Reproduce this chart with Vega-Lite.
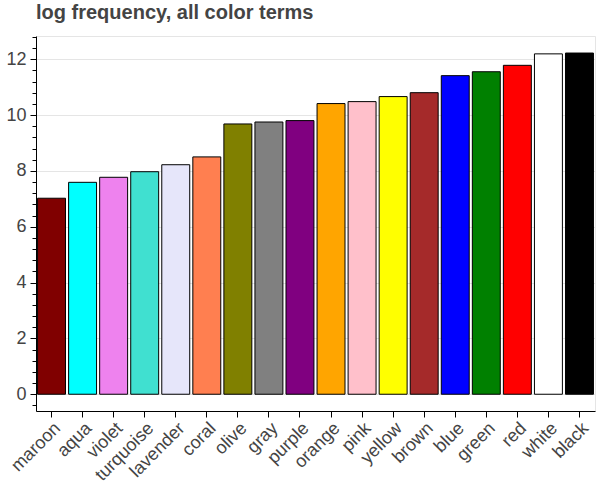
{
  "$schema": "https://vega.github.io/schema/vega-lite/v6.json",
  "width": 559,
  "height": 375,
  "autosize": "none",
  "padding": {"left": 36, "top": 36, "right": 5, "bottom": 89},
  "background": "white",
  "title": {
    "text": "log frequency, all color terms",
    "anchor": "start",
    "frame": "group",
    "fontSize": 20,
    "fontWeight": "bold",
    "font": "Liberation Sans",
    "color": "#444444",
    "offset": 5
  },
  "config": {
    "view": {"stroke": "#e5e5e5", "strokeWidth": 1},
    "axis": {"labelFont": "Liberation Sans", "labelFontSize": 18, "labelColor": "#444444", "domainColor": "black", "tickColor": "black"}
  },
  "data": {
    "values": [
      {"term": "maroon", "logfreq": 7.02},
      {"term": "aqua", "logfreq": 7.59},
      {"term": "violet", "logfreq": 7.77},
      {"term": "turquoise", "logfreq": 7.97},
      {"term": "lavender", "logfreq": 8.22},
      {"term": "coral", "logfreq": 8.5},
      {"term": "olive", "logfreq": 9.68},
      {"term": "gray", "logfreq": 9.75},
      {"term": "purple", "logfreq": 9.8},
      {"term": "orange", "logfreq": 10.41},
      {"term": "pink", "logfreq": 10.48},
      {"term": "yellow", "logfreq": 10.66},
      {"term": "brown", "logfreq": 10.8},
      {"term": "blue", "logfreq": 11.41},
      {"term": "green", "logfreq": 11.55},
      {"term": "red", "logfreq": 11.78},
      {"term": "white", "logfreq": 12.19},
      {"term": "black", "logfreq": 12.22}
    ]
  },
  "mark": {"type": "bar", "stroke": "black", "strokeWidth": 1},
  "encoding": {
    "x": {
      "field": "term",
      "type": "nominal",
      "sort": null,
      "scale": {"paddingInner": 0.1, "paddingOuter": 0.05},
      "axis": {
        "title": null,
        "labelAngle": -45,
        "labelAlign": "right",
        "labelBaseline": "top",
        "labelPadding": 2,
        "tickSize": 6,
        "grid": false,
        "domainWidth": 1
      }
    },
    "y": {
      "field": "logfreq",
      "type": "quantitative",
      "scale": {"domain": [-0.6, 12.83], "nice": false, "zero": false},
      "axis": {
        "title": null,
        "values": [-0.4, 0, 0.4, 0.8, 1.2, 1.6, 2, 2.4, 2.8, 3.2, 3.6, 4, 4.4, 4.8, 5.2, 5.6, 6, 6.4, 6.8, 7.2, 7.6, 8, 8.4, 8.8, 9.2, 9.6, 10, 10.4, 10.8, 11.2, 11.6, 12, 12.4, 12.8],
        "labelExpr": "abs(datum.value/2 - round(datum.value/2)) < 0.01 ? format(datum.value, 'd') : ''",
        "grid": true,
        "gridColor": "#e5e5e5",
        "gridOpacity": {"condition": {"test": "abs(datum.value/2 - round(datum.value/2)) < 0.01", "value": 1}, "value": 0},
        "tickSize": {"condition": {"test": "abs(datum.value/2 - round(datum.value/2)) < 0.01", "value": 6}, "value": 4},
        "labelPadding": 4,
        "labelFlush": false,
        "labelOverlap": false,
        "domainWidth": 1
      }
    },
    "color": {"field": "term", "type": "nominal", "scale": null, "legend": null}
  }
}
